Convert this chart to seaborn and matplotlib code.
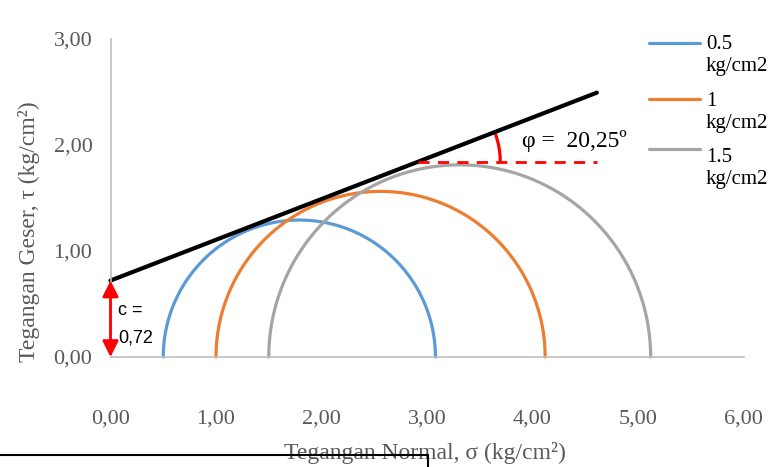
import numpy as np
import pandas as pd
import matplotlib
matplotlib.use("Agg")
import matplotlib.pyplot as plt
import seaborn as sns
from matplotlib.patches import Arc
from matplotlib.lines import Line2D

# ---- data ----
series_labels = ["0.5\nkg/cm2", "1\nkg/cm2", "1.5\nkg/cm2"]
sigma3 = [0.5, 1.0, 1.5]
sigma1 = [3.08, 4.12, 5.12]
colors = ["#5B9BD5", "#ED7D31", "#A5A5A5"]
env_x = [0.0, 4.61]
env_y = [0.72, 2.49]
cohesion = 0.72
phi_text = "φ =  20,25º"
c_text = ["c =", "0,72"]
x_ticks = [0, 1, 2, 3, 4, 5, 6]
y_ticks = [0, 1, 2, 3]

sns.set_theme(style="white")
plt.rcParams["font.family"] = ["Liberation Serif", "DejaVu Serif"]

W, H = 774, 467
fig = plt.figure(figsize=(W / 100, H / 100), dpi=100)
x0, x6 = 110.5, 743.5
yb, yt = 357, 38.5
ax = fig.add_axes([x0 / W, 1 - yb / H, (x6 - x0) / W, (yb - yt) / H])

# Mohr circles
rows = []
t = np.linspace(np.pi, 0, 240)
for lab, s3, s1 in zip(series_labels, sigma3, sigma1):
    c = (s1 + s3) / 2
    r = (s1 - s3) / 2
    for tt in t:
        rows.append({"sigma": c + r * np.cos(tt), "tau": r * np.sin(tt), "label": lab})
df = pd.DataFrame(rows)
sns.lineplot(data=df, x="sigma", y="tau", hue="label", palette=colors, sort=False,
             estimator=None, lw=2.3, legend=False, ax=ax, clip_on=False)

# failure envelope
sns.lineplot(x=env_x, y=env_y, color="black", lw=3, ax=ax, sort=False, estimator=None, clip_on=False)

# angle indication
slope = (env_y[1] - env_y[0]) / (env_x[1] - env_x[0])
y_ref = 1.84
x_int = (y_ref - env_y[0]) / slope
ax.plot([x_int, env_x[1]], [y_ref, y_ref], color="red", lw=2, dashes=(4, 3))
sx = (x6 - x0) / 6
sy = (yb - yt) / 3
ang = np.degrees(np.arctan(slope * sy / sx))
rpx = 82
ax.add_patch(Arc((x_int, y_ref), 2 * rpx / sx, 2 * rpx / sy, theta1=0, theta2=ang,
                 color="red", lw=2.3))
ax.text(3.90, 2.03, phi_text, fontsize=17, ha="left", va="center", color="black")

# cohesion arrow
ax.annotate("", xy=(0, 0), xytext=(0, cohesion),
            arrowprops=dict(arrowstyle="<|-|>", color="red", lw=2, mutation_scale=24,
                            shrinkA=0, shrinkB=0), annotation_clip=False)
ax.text(0.07, 0.44, c_text[0], fontsize=13, family=["Liberation Sans", "DejaVu Sans"],
        ha="left", va="center", color="black")
ax.text(0.07, 0.18, c_text[1], fontsize=13, family=["Liberation Sans", "DejaVu Sans"],
        ha="left", va="center", color="black")

# axes styling
ax.set_xlim(0, 6)
ax.set_ylim(0, 3)
ax.set_xticks(x_ticks)
ax.set_yticks(y_ticks)
ax.set_xticklabels([f"{v:.2f}".replace(".", ",") for v in x_ticks])
ax.set_yticklabels([f"{v:.2f}".replace(".", ",") for v in y_ticks])
ax.tick_params(axis="x", length=0, pad=37.5, labelsize=16, labelcolor="#595959")
ax.tick_params(axis="y", length=0, pad=13, labelsize=16, labelcolor="#595959")
for s in ["top", "right"]:
    ax.spines[s].set_visible(False)
for s in ["left", "bottom"]:
    ax.spines[s].set_color("#BFBFBF")
    ax.spines[s].set_linewidth(1.2)
ax.set_facecolor("none")
ax.set_xlabel("Tegangan Normal, σ (kg/cm²)", fontsize=17, color="#595959")
ax.set_ylabel("Tegangan Geser, τ (kg/cm²)", fontsize=17, color="#595959")
ax.xaxis.set_label_coords((425 - x0) / (x6 - x0), -(459 - yb) / (yb - yt))
ax.xaxis.label.set_verticalalignment("baseline")
ax.yaxis.set_label_coords(-(x0 - 40) / (x6 - x0), (yb - 232) / (yb - yt))

# legend (drawn in figure pixel coords)
leg_line_y = [43, 99, 149]
leg_base1 = [49, 106, 162]
for lab, col, ly, by in zip(series_labels, colors, leg_line_y, leg_base1):
    fig.add_artist(Line2D([649 / W, 700 / W], [1 - ly / H, 1 - ly / H], color=col, lw=2.3,
                          transform=fig.transFigure))
    for k, part in enumerate(lab.split("\n")):
        fig.text(706 / W, 1 - (by + 22 * k) / H, part, fontsize=15, ha="left",
                 va="baseline", color="black", transform=fig.transFigure)

# document frame lines at bottom
fig.add_artist(Line2D([0, 428 / W], [1 - 455 / H, 1 - 455 / H], color="black", lw=1.5,
                      transform=fig.transFigure))
fig.add_artist(Line2D([428 / W, 428 / W], [1 - 455 / H, 0], color="black", lw=1.5,
                      transform=fig.transFigure))

fig.savefig("out.png", dpi=100)
